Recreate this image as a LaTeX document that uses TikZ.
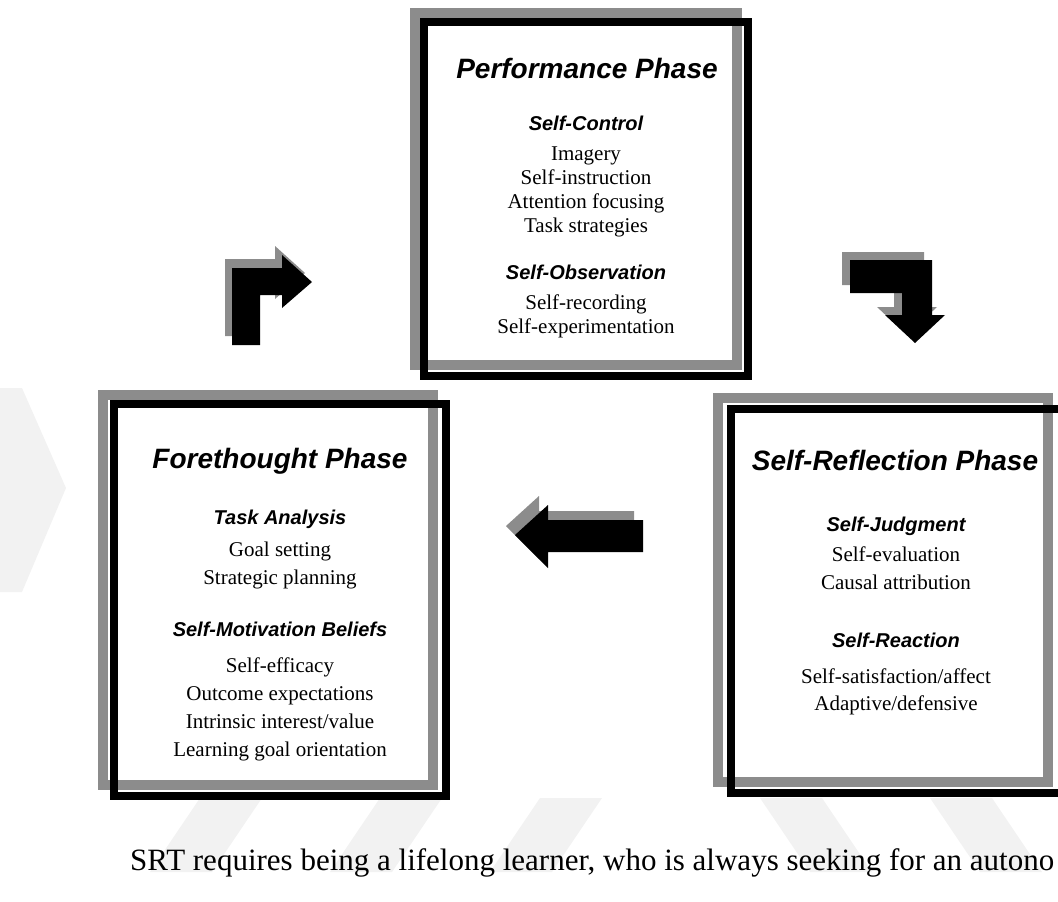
\documentclass[tikz,border=0pt]{standalone}
\usepackage{fontspec}
\setmainfont{Liberation Serif}
\newfontfamily\headfont{Liberation Sans}

\begin{document}
\begin{tikzpicture}[x=1pt,y=-1pt,
  phasetitle/.style={anchor=base,font=\headfont\bfseries\itshape\fontsize{28}{32}\selectfont},
  subhead/.style={anchor=base,font=\headfont\bfseries\itshape\fontsize{20}{24}\selectfont},
  entry/.style={anchor=base,font=\fontsize{21}{24}\selectfont},
  rim/.style={draw=black!45,line width=10pt},
  boxline/.style={draw=black,line width=8pt},
  faint/.style={fill=black!5}]
  \useasboundingbox (0,0) rectangle (1058,902);

  % faint background marks
  \fill[faint] (0,388) -- (22,388) -- (66,488) -- (22,592) -- (0,592) -- cycle;
  \foreach \s in {150,330,490}
    \fill[faint] (\s,872) -- (\s+62,872) -- (\s+112,798) -- (\s+50,798) -- cycle;
  \foreach \s in {760,930}
    \fill[faint] (\s,798) -- (\s+62,798) -- (\s+112,872) -- (\s+50,872) -- cycle;

  % phase boxes: grey rim behind, black frame on top
  \draw[rim] (415,13) rectangle (737,365);
  \draw[boxline] (424,22) rectangle (748,376);
  \draw[rim] (103,395) rectangle (433,785);
  \draw[boxline] (114,404) rectangle (446,796);
  \draw[rim] (718,398) rectangle (1048,782);
  \draw[boxline] (731,409) rectangle (1063,793);

  % block arrows with their grey shadows
  \foreach \dx/\dy/\c in {-7/-9/black!45,0/0/black}
    \fill[\c,shift={(\dx,\dy)}] (232,345) -- (260,345) -- (260,295) -- (282,295) -- (282,308)
      -- (312,282) -- (282,255) -- (282,268) -- (232,268) -- cycle;
  \foreach \dx/\dy/\c in {-8/-8/black!45,0/0/black}
    \fill[\c,shift={(\dx,\dy)}] (850,260) -- (932,260) -- (932,315) -- (945,315)
      -- (915,343) -- (885,315) -- (902,315) -- (902,293) -- (850,293) -- cycle;
  \foreach \dx/\dy/\c in {-9/-9/black!45,0/0/black}
    \fill[\c,shift={(\dx,\dy)}] (643,520) -- (548,520) -- (548,505) -- (515,535)
      -- (548,568) -- (548,552) -- (643,552) -- cycle;

  % performance phase
  \node[phasetitle] (perf) at (587,78) {Performance Phase};
  \node[subhead] (sctrl) at (586,130) {Self-Control};
  \node[entry] (imag) at (586,160) {Imagery};
  \node[entry] (sinstr) at (586,184) {Self-instruction};
  \node[entry] (attn) at (586,208) {Attention focusing};
  \node[entry] (tstrat) at (586,232) {Task strategies};
  \node[subhead] (sobs) at (586,279) {Self-Observation};
  \node[entry] (srec) at (586,309) {Self-recording};
  \node[entry] (sexp) at (586,333) {Self-experimentation};

  % forethought phase
  \node[phasetitle] (fore) at (280,468) {Forethought Phase};
  \node[subhead] (task) at (280,524) {Task Analysis};
  \node[entry] (goal) at (280,556) {Goal setting};
  \node[entry] (plan) at (280,584) {Strategic planning};
  \node[subhead] (smot) at (280,636) {Self-Motivation Beliefs};
  \node[entry] (seff) at (280,672) {Self-efficacy};
  \node[entry] (outc) at (280,700) {Outcome expectations};
  \node[entry] (intr) at (280,728) {Intrinsic interest/value};
  \node[entry] (lgo) at (280,756) {Learning goal orientation};

  % self-reflection phase
  \node[phasetitle] (refl) at (895,470) {Self-Reflection Phase};
  \node[subhead] (sjudg) at (896,531) {Self-Judgment};
  \node[entry] (seval) at (896,561) {Self-evaluation};
  \node[entry] (caus) at (896,589) {Causal attribution};
  \node[subhead] (sreac) at (896,647) {Self-Reaction};
  \node[entry] (ssat) at (896,683) {Self-satisfaction/affect};
  \node[entry] (adapt) at (896,710) {Adaptive/defensive};

  % running text under the figure
  \node[anchor=base west,inner sep=0pt,font=\fontsize{31}{36}\selectfont] (srt) at (130,870)
    {SRT requires being a lifelong learner, who is always seeking for an autono};
\end{tikzpicture}
\end{document}
